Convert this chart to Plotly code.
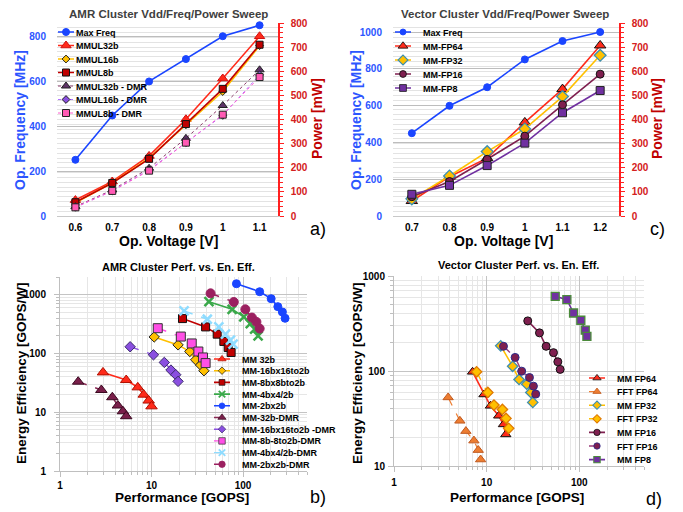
import math
import plotly.graph_objects as go

# ---------------- data ----------------
# Panel a: AMR cluster sweep
volt_amr = [0.6, 0.7, 0.8, 0.9, 1.0, 1.1]
freq_amr = [251, 449, 601, 701, 803, 852]
pw_mmul32 = [66, 143, 249, 401, 570, 745]
pw_mmul16 = [55, 138, 240, 378, 516, 706]
pw_mmul8 = [57, 137, 237, 381, 527, 710]
pw_mmul32_dmr = [39, 108, 198, 322, 458, 606]
pw_mmul16_dmr = [36, 104, 191, 304, 417, 585]
pw_mmul8_dmr = [36, 104, 188, 304, 420, 576]

# Panel c: Vector cluster sweep
volt_vec = [0.7, 0.8, 0.9, 1.0, 1.1, 1.2]
freq_vec = [450, 599, 700, 851, 951, 1000]
pw_fp64 = [62, 163, 240, 388, 526, 707]
pw_fp32 = [71, 166, 267, 361, 495, 666]
pw_fp16 = [80, 143, 235, 331, 461, 588]
pw_fp8 = [90, 127, 209, 302, 428, 520]

# Panel b: AMR perf vs efficiency
mm32_x = [2.95, 5.29, 7.08, 8.22, 9.31, 10.0]
mm32_y = [47.6, 35.3, 26.5, 19.9, 15.8, 12.6]
mm16_x = [10.7, 19.5, 26.2, 30.4, 34.4, 37.4]
mm16_y = [191, 140, 108, 78, 63.4, 50.8]
mm8_x = [21.8, 39.0, 52.2, 61.7, 68.8, 74.1]
mm8_y = [392, 283, 213, 160, 126, 104]
mm4_x = [42.4, 76, 102, 120, 134, 146]
mm4_y = [761, 564, 418, 322, 259, 199]
mm2_x = [84.7, 152, 203, 240, 269, 288]
mm2_y = [1536, 1124, 855, 626, 508, 397]
mm32d_x = [1.58, 2.83, 3.73, 4.29, 4.87, 5.29]
mm32d_y = [33.1, 23.9, 18.0, 13.0, 10.4, 8.55]
mm16d_x = [5.84, 10.5, 13.8, 16.3, 18.4, 19.5]
mm16d_y = [130, 94.9, 70.4, 52.2, 43.5, 33.5]
mm8d_x = [11.7, 20.9, 27.5, 32.5, 36.5, 39.0]
mm8d_y = [269, 194, 148, 108, 85.5, 68.6]
mm4d_x = [22.7, 40.7, 54.4, 64.3, 72.9, 77.9]
mm4d_y = [529, 382, 283, 213, 168, 144]
mm2d_x = [44.2, 79.2, 106, 125, 140, 152]
mm2d_y = [1054, 751, 564, 408, 344, 265]

# Panel d: Vector perf vs efficiency
mmfp64_x = [7.05, 9.36, 11.0, 13.5, 15.2, 16.1]
mmfp64_y = [98, 56.6, 43.0, 33.8, 27.4, 21.5]
fftfp64_x = [3.84, 5.14, 5.97, 7.29, 8.12, 8.61]
fftfp64_y = [52.7, 29.9, 23.3, 18.5, 14.7, 11.7]
mmfp32_x = [14.2, 19.1, 22.4, 27.1, 30.0, 31.5]
mmfp32_y = [184, 112, 81.4, 72.7, 59.4, 46.7]
fftfp32_x = [7.79, 10.3, 12.0, 14.8, 16.2, 17.3]
fftfp32_y = [98, 59.4, 43.8, 39.4, 31.7, 24.9]
mmfp16_x = [27.8, 37.2, 43.9, 52.7, 58.7, 62.2]
mmfp16_y = [337, 252, 182, 156, 125, 104]
fftfp16_x = [15.2, 20.3, 23.9, 29.0, 32.0, 33.9]
fftfp16_y = [182, 139, 99.6, 85.4, 69.3, 57.1]
mmfp8_x = [55.0, 73.5, 86.8, 104, 116, 121]
mmfp8_y = [611, 564, 408, 342, 269, 232]

log_ticks = [1, 10, 100, 1000]
log_ticktext = ["1", "10", "100", "1000"]

# ---------------- styling helpers ----------------
W, H = 683, 512
FONT = "Liberation Sans, Arial, sans-serif"
BLUE = "#1a45ff"
RED = "#ff2a1a"
DRED = "#c00000"
YEL = "#ffc000"


def xd(l, r):
    return [l / W, r / W]


def yd(t, b):
    return [1 - b / H, 1 - t / H]


fig = go.Figure()


def add(x, y, name, xa, ya, lg, color, symbol, size, mfill=None, medge=None,
        dash="solid", lw=1.6, ew=1):
    mk = dict(symbol=symbol, size=size, color=mfill or color,
              line=dict(color=medge or color, width=ew))
    if symbol.startswith("x-thin"):
        mk = dict(symbol=symbol, size=size, color=color, line=dict(color=color, width=2.5))
    fig.add_trace(go.Scatter(
        x=x, y=y, name=name, mode="lines+markers", xaxis=xa, yaxis=ya, legend=lg,
        line=dict(color=color, width=lw, dash=dash), marker=mk, cliponaxis=False))


# Panel a
add(volt_amr, freq_amr, "Max Freq", "x", "y", "legend", BLUE, "circle", 7)
add(volt_amr, pw_mmul32, "MMUL32b", "x", "y2", "legend", RED, "triangle-up", 9, RED, "#d01010")
add(volt_amr, pw_mmul16, "MMUL16b", "x", "y2", "legend", YEL, "diamond", 6, YEL, "#222222")
add(volt_amr, pw_mmul8, "MMUL8b", "x", "y2", "legend", DRED, "square", 7, DRED, "#111111")
add(volt_amr, pw_mmul32_dmr, "MMUL32b - DMR", "x", "y2", "legend", "#8b3a6a", "triangle-up", 8,
    "#5e3366", "#222222", dash="dot", lw=1)
add(volt_amr, pw_mmul16_dmr, "MMUL16b - DMR", "x", "y2", "legend", "#b070ff", "diamond", 6,
    "#8a4fe0", "#222222", dash="dot", lw=1)
add(volt_amr, pw_mmul8_dmr, "MMUL8b - DMR", "x", "y2", "legend", "#ff5ad0", "square", 7,
    "#ff5ab4", "#222222", dash="dot", lw=1)

# Panel c
add(volt_vec, freq_vec, "Max Freq", "x2", "y3", "legend2", BLUE, "circle", 7)
add(volt_vec, pw_fp64, "MM-FP64", "x2", "y4", "legend2", RED, "triangle-up", 10, RED, "#111111")
add(volt_vec, pw_fp32, "MM-FP32", "x2", "y4", "legend2", YEL, "diamond", 9, YEL, "#3d8fb0", ew=1.3)
add(volt_vec, pw_fp16, "MM-FP16", "x2", "y4", "legend2", "#7f1f4f", "circle", 8, "#7f1f4f", "#111111")
add(volt_vec, pw_fp8, "MM-FP8", "x2", "y4", "legend2", "#7030a0", "square", 8, "#7030a0", "#222222")

# Panel b
add(mm32_x, mm32_y, "MM 32b", "x3", "y5", "legend3", RED, "triangle-up", 10, RED, "#b01000")
add(mm16_x, mm16_y, "MM-16bx16to2b", "x3", "y5", "legend3", YEL, "diamond", 8, YEL, "#222222")
add(mm8_x, mm8_y, "MM-8bx8bto2b", "x3", "y5", "legend3", DRED, "square", 8, DRED, "#111111")
add(mm4_x, mm4_y, "MM-4bx4/2b", "x3", "y5", "legend3", "#3aa84a", "x-thin", 9)
add(mm2_x, mm2_y, "MM-2bx2b", "x3", "y5", "legend3", BLUE, "circle", 8)
add(mm32d_x, mm32d_y, "MM-32b-DMR", "x3", "y5", "legend3", "#8a2a55", "triangle-up", 10,
    "#7a1f4a", "#3a0a20", dash="dash", lw=1.4)
add(mm16d_x, mm16d_y, "MM-16bx16to2b -DMR", "x3", "y5", "legend3", "#8a4fe0", "diamond", 8,
    "#8a4fe0", "#3a2a6a", dash="dash", lw=1.4)
add(mm8d_x, mm8d_y, "MM-8b-8to2b-DMR", "x3", "y5", "legend3", "#ff4fe6", "square", 9,
    "#ff4fe6", "#333333", dash="dash", lw=1.4)
add(mm4d_x, mm4d_y, "MM-4bx4/2b-DMR", "x3", "y5", "legend3", "#8fdcff", "x-thin", 9, dash="dash", lw=1.4)
add(mm2d_x, mm2d_y, "MM-2bx2b-DMR", "x3", "y5", "legend3", "#9b2060", "circle", 9,
    "#9b2060", "#9b2060", dash="dash", lw=1.4)

# Panel d
add(mmfp64_x, mmfp64_y, "MM FP64", "x4", "y6", "legend4", RED, "triangle-up", 9, RED, "#111111")
add(fftfp64_x, fftfp64_y, "FFT FP64", "x4", "y6", "legend4", "#ed7d31", "triangle-up", 9,
    "#ed7d31", "#c05a20", dash="dash", lw=1.2)
add(mmfp32_x, mmfp32_y, "MM FP32", "x4", "y6", "legend4", YEL, "diamond", 8, YEL, "#3d8fb0", ew=1.3)
add(fftfp32_x, fftfp32_y, "FFT FP32", "x4", "y6", "legend4", YEL, "diamond", 8, YEL, "#e07a00",
    dash="dash", lw=1.4, ew=1.3)
add(mmfp16_x, mmfp16_y, "MM FP16", "x4", "y6", "legend4", "#7f1f4f", "circle", 8, "#7f1f4f", "#111111")
add(fftfp16_x, fftfp16_y, "FFT FP16", "x4", "y6", "legend4", "#9a3a7a", "circle", 8,
    "#7f1f4f", "#2a2a8a", dash="dash", lw=1.4)
add(mmfp8_x, mmfp8_y, "MM FP8", "x4", "y6", "legend4", "#7030a0", "square", 8, "#7030a0", "#4a8a3a", ew=1.3)

# ---------------- axes ----------------
tick_b = dict(family=FONT, size=10, color="#000000", weight="bold")
tick_blue = dict(family=FONT, size=10, color="#2c55ff", weight="bold")
tick_red = dict(family=FONT, size=10, color="#d42020", weight="bold")

lin_x = dict(showgrid=False, zeroline=False, showline=True, linecolor="#c8c8c8",
             ticks="outside", ticklen=2, tickcolor="rgba(0,0,0,0)", tickfont=tick_b)
left_y = dict(zeroline=False, showline=False, gridcolor="#bdbdbd", gridwidth=1,
              ticks="outside", ticklen=8, tickcolor="rgba(0,0,0,0)", tickfont=tick_blue,
              tick0=0, dtick=200)
right_y = dict(side="right", range=[0, 800], dtick=100, tick0=0, showgrid=True,
               gridcolor="#e3e3e3", zeroline=False, showline=True, linecolor="#ff2020",
               linewidth=1.5, ticks="outside", ticklen=4, tickcolor="#ff2020",
               ticklabelstandoff=5, tickfont=tick_red,
               minor=dict(dtick=20, showgrid=True, gridcolor="#e3e3e3", ticks="outside",
                          ticklen=3, tickcolor="#ff2020"))


def log_axis(standoff):
    return dict(type="log", showline=True, linecolor="#bfbfbf", zeroline=False,
                gridcolor="#c4c4c4", tickfont=tick_b, tickvals=log_ticks, ticktext=log_ticktext,
                ticks="outside", ticklen=5, tickcolor="#bfbfbf", ticklabelstandoff=standoff,
                minor=dict(dtick="D1", showgrid=True, gridcolor="#e6e6e6", ticks="outside",
                           ticklen=3, tickcolor="#bfbfbf"))


fig.update_layout(
    xaxis=dict(domain=xd(57, 278), anchor="y", range=[0.55, 1.15], tickvals=volt_amr, **lin_x),
    yaxis=dict(domain=yd(23, 216), anchor="x", range=[0, 862], **left_y),
    yaxis2=dict(overlaying="y", anchor="x", **right_y),
    xaxis2=dict(domain=xd(393, 619), anchor="y3", range=[0.65, 1.25], tickvals=volt_vec, **lin_x),
    yaxis3=dict(domain=yd(23, 216), anchor="x2", range=[0, 1049], **left_y),
    yaxis4=dict(overlaying="y3", anchor="x2", **right_y),
    xaxis3=dict(domain=xd(60, 307), anchor="y5", range=[0, math.log10(500)], **log_axis(0)),
    yaxis5=dict(domain=yd(277, 471), anchor="x3", range=[0, math.log10(2000)], **log_axis(6)),
    xaxis4=dict(domain=xd(394, 644), anchor="y6", range=[0, math.log10(500)], **log_axis(2)),
    yaxis6=dict(domain=yd(276, 466), anchor="x4", range=[1, 3], **log_axis(1)),
)


def legend_at(left, first_center):
    return dict(x=left / W, y=1 - (first_center - 14.5) / H, xanchor="left", yanchor="top",
                xref="paper", yref="paper", bgcolor="rgba(0,0,0,0)", borderwidth=0,
                tracegroupgap=0, itemclick=False, itemdoubleclick=False,
                font=dict(family=FONT, size=9, color="#000000", weight="bold"))


fig.update_layout(
    legend=legend_at(46, 32),
    legend2=legend_at(383, 32),
    legend3=legend_at(202, 359),
    legend4=legend_at(577, 378),
)

# ---------------- text ----------------
anns = []


def txt(s, x, y, size, color="#000000", bold=True, angle=0):
    anns.append(dict(text=s, x=x / W, y=1 - y / H, xref="paper", yref="paper",
                     xanchor="center", yanchor="middle", showarrow=False, textangle=angle,
                     font=dict(family=FONT, size=size, color=color,
                               weight="bold" if bold else "normal")))


txt("AMR Cluster Vdd/Freq/Power Sweep", 168, 14, 11.5, "#404040")
txt("Vector Cluster Vdd/Freq/Power Sweep", 505, 14, 11.5, "#404040")
txt("AMR Cluster Perf. vs. En. Eff.", 178, 267, 11)
txt("Vector Cluster Perf. vs. En. Eff.", 518, 265, 11)

txt("Op. Frequency [MHz]", 20, 120, 14, "#2c55ff", angle=-90)
txt("Power [mW]", 317, 119, 14, DRED, angle=-90)
txt("Op. Voltage [V]", 168, 241, 14)
txt("Op. Frequency [MHz]", 356, 120, 14, "#2c55ff", angle=-90)
txt("Power [mW]", 657, 119, 14, DRED, angle=-90)
txt("Op. Voltage [V]", 503, 241, 14)
txt("Energy Efficiency [GOPS/W]", 21, 373, 13.5, angle=-90)
txt("Performance [GOPS]", 182, 497, 13.5)
txt("Energy Efficiency [GOPS/W]", 357, 373, 13.5, angle=-90)
txt("Performance [GOPS]", 517, 497, 13.5)

txt("a)", 318, 229, 18, bold=False)
txt("c)", 657, 229, 18, bold=False)
txt("b)", 318, 497, 18, bold=False)
txt("d)", 654, 499, 18, bold=False)

fig.update_layout(
    annotations=anns,
    width=W, height=H,
    margin=dict(l=0, r=0, t=0, b=0, autoexpand=False),
    paper_bgcolor="white", plot_bgcolor="white",
    font=dict(family=FONT),
    showlegend=True,
)

post = """
document.documentElement.style.margin = '0';
document.body.style.margin = '0';
document.body.style.padding = '0';
var gd = document.getElementById('{plot_id}');
var cfg = {legend:[13.5,1], legend2:[14,0.85], legend3:[11.7,0.72], legend4:[13.6,0.8]};
Object.keys(cfg).forEach(function(k){
  var lg = gd.querySelector('g.' + k);
  if(!lg) return;
  var sp = cfg[k][0], sc = cfg[k][1];
  var tr = lg.querySelectorAll('g.traces');
  var y0 = null;
  for (var i = 0; i < tr.length; i++) {
    var t = tr[i];
    var m = /translate\\(\\s*([-\\d.e]+)[ ,]+([-\\d.e]+)\\s*\\)/.exec(t.getAttribute('transform') || '');
    if (!m) continue;
    if (y0 === null) y0 = parseFloat(m[2]);
    t.setAttribute('transform', 'translate(' + m[1] + ',' + (y0 + i * sp) + ')');
    t.querySelectorAll('path.js-line').forEach(function(p){ p.setAttribute('d', 'M12,0h16'); });
    if (sc !== 1) {
      t.querySelectorAll('g.legendpoints').forEach(function(g){
        g.setAttribute('transform', 'translate(' + (20 * (1 - sc)) + ',0) scale(' + sc + ')');
      });
    }
    var tx = t.querySelector('text.legendtext');
    if (tx) {
      tx.setAttribute('x', 30);
      tx.querySelectorAll('tspan').forEach(function(s){ if (s.hasAttribute('x')) s.setAttribute('x', 30); });
    }
  }
});
"""

fig.write_html("out.html", post_script=post, config={"displayModeBar": False})
